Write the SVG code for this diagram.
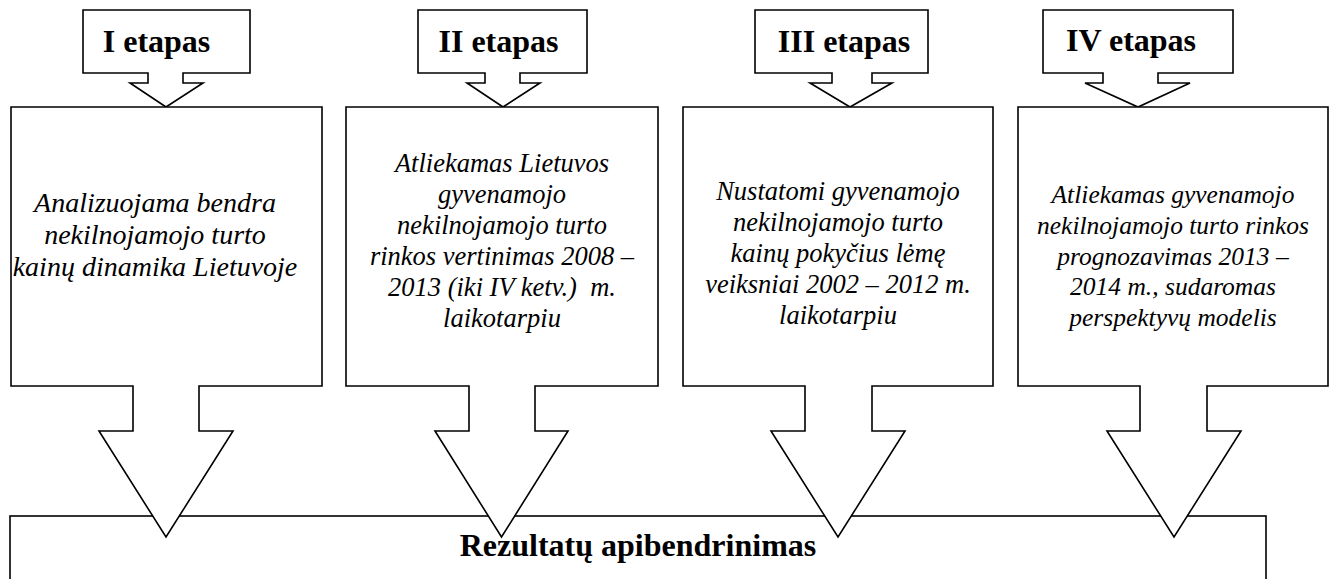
<svg xmlns="http://www.w3.org/2000/svg" width="1334" height="579" viewBox="0 0 1334 579">
<style>
.shape{fill:#fff;stroke:#000;stroke-width:1.6;stroke-linejoin:miter}
.head{font-family:'Liberation Serif','Times New Roman',serif;font-weight:bold;font-size:32px;fill:#000;text-anchor:middle}
.body{font-family:'Liberation Serif','Times New Roman',serif;font-style:italic;font-size:26.5px;fill:#000;text-anchor:middle;white-space:pre}
</style>
<rect width="1334" height="579" fill="#fff"/>
<g id="result">
<rect class="shape" x="10" y="516" width="1256" height="80"/>
<text class="head" x="638" y="556">Rezultatų apibendrinimas</text>
</g>
<g id="connectors">
<path class="shape" d="M83,10 H250 V73 H183 V83 H203 L166,107 L130,83 H148 V73 H83 Z"/>
<path class="shape" d="M418,10 H587 V73 H520 V83 H540 L503,107 L467,83 H485 V73 H418 Z"/>
<path class="shape" d="M755,10 H928 V73 H872 V83 H892 L850,107 L810,83 H832 V73 H755 Z"/>
<path class="shape" d="M1043,10 H1233 V73 H1158 V83 H1190 L1138,107 L1085,83 H1103 V73 H1043 Z"/>
</g>
<g id="stage1">
<path class="shape" d="M11,107 H322 V386 H199 V431 H233 L166,537 L99,431 H133 V386 H11 Z"/>
<text class="head" x="156.5" y="52">I etapas</text>
<text class="body" style="font-size:28px"><tspan x="155" y="212">Analizuojama bendra</tspan><tspan x="155" y="244">nekilnojamojo turto</tspan><tspan x="155" y="276">kainų dinamika Lietuvoje</tspan></text>
</g>
<g id="stage2">
<path class="shape" d="M346,107 H658 V386 H535 V431 H568 L501.5,537 L435,431 H469 V386 H346 Z"/>
<text class="head" x="498.5" y="52">II etapas</text>
<text class="body"><tspan x="502" y="172">Atliekamas Lietuvos</tspan><tspan x="502" y="203">gyvenamojo</tspan><tspan x="502" y="234">nekilnojamojo turto</tspan><tspan x="502" y="265">rinkos vertinimas 2008 –</tspan><tspan x="502" y="296">2013 (iki IV ketv.)  m.</tspan><tspan x="502" y="327">laikotarpiu</tspan></text>
</g>
<g id="stage3">
<path class="shape" d="M683,107 H993 V386 H872 V431 H905 L838,537 L771,431 H805 V386 H683 Z"/>
<text class="head" x="844" y="52">III etapas</text>
<text class="body"><tspan x="838" y="200">Nustatomi gyvenamojo</tspan><tspan x="838" y="231">nekilnojamojo turto</tspan><tspan x="838" y="262">kainų pokyčius lėmę</tspan><tspan x="838" y="293">veiksniai 2002 – 2012 m.</tspan><tspan x="838" y="324">laikotarpiu</tspan></text>
</g>
<g id="stage4">
<path class="shape" d="M1018,107 H1328 V386 H1207 V431 H1241 L1174,537 L1107,431 H1140 V386 H1018 Z"/>
<text class="head" x="1131" y="51">IV etapas</text>
<text class="body" style="font-size:25.5px"><tspan x="1173" y="203">Atliekamas gyvenamojo</tspan><tspan x="1173" y="234">nekilnojamojo turto rinkos</tspan><tspan x="1173" y="265">prognozavimas 2013 –</tspan><tspan x="1173" y="295">2014 m., sudaromas</tspan><tspan x="1173" y="326">perspektyvų modelis</tspan></text>
</g>
</svg>
